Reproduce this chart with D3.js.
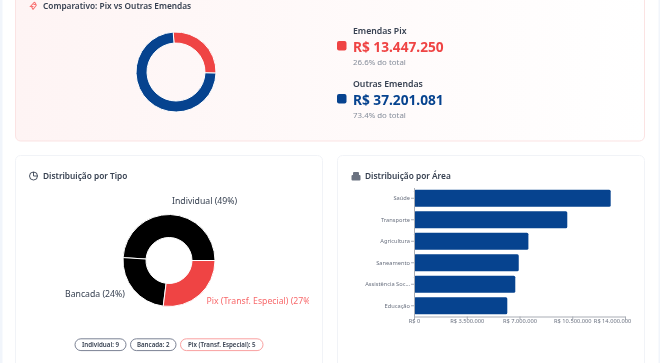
<!DOCTYPE html>
<html>
<head>
<meta charset="utf-8">
<script src="https://cdn.jsdelivr.net/npm/d3@7"></script>
<style>
  html, body { margin: 0; padding: 0; background: #fff; overflow: hidden; }
  svg { display: block; filter: blur(0.35px); }
  text { font-family: "Noto Sans", sans-serif; }
</style>
</head>
<body>
<div id="chart"></div>
<script>
// ----------------------- data ------------------------
const compareNames = ["Emendas Pix", "Outras Emendas"];
const compareValues = [13447250, 37201081];
const comparePct = ["26.6% do total", "73.4% do total"];

const typeNames = ["Individual", "Bancada", "Pix (Transf. Especial)"];
const typePct = [49, 24, 27];
const typeCounts = [9, 2, 5];

const areaNames = ["Saúde", "Transporte", "Agricultura", "Saneamento", "Assistência Soc...", "Educação"];
const areaValues = [13050000, 10170000, 7590000, 6950000, 6720000, 6190000];
const areaTicks = [0, 3500000, 7000000, 10500000, 14000000];

// ----------------------- constants ------------------------
const width = 660, height = 363;
const red = "#ef4444", blue = "#06438f", dark = "#374151", grey = "#6b7280";
const brl = v => "R$ " + d3.format(",")(v).replace(/,/g, ".");

const svg = d3.select("#chart").append("svg")
  .attr("width", width).attr("height", height);

const defs = svg.append("defs");
const grad = defs.append("linearGradient").attr("id", "pink");
grad.append("stop").attr("offset", "0%").attr("stop-color", "#fef4f4");
grad.append("stop").attr("offset", "100%").attr("stop-color", "#ffffff");
defs.append("clipPath").attr("id", "typeClip")
  .append("rect").attr("x", 15).attr("y", 155).attr("width", 294).attr("height", 208);

// side strips of the page
svg.append("rect").attr("width", 2.5).attr("height", height).attr("fill", "#f1f5fb");
svg.append("rect").attr("x", 658.5).attr("width", 1.5).attr("height", height).attr("fill", "#f1f5fb");

// ----------------------- cards ------------------------
svg.append("rect").attr("x", 15.5).attr("y", -30).attr("width", 629).attr("height", 171)
  .attr("rx", 5).attr("fill", "url(#pink)").attr("stroke", "#fbe3e3");
[[15.5, 307], [337.5, 307]].forEach(([x, w]) => {
  svg.append("rect").attr("x", x).attr("y", 155.5).attr("width", w).attr("height", 240)
    .attr("rx", 5).attr("fill", "#fff").attr("stroke", "#f1f3f7");
});

function title(x, y, t) {
  svg.append("text").attr("x", x).attr("y", y).attr("dy", "0.35em")
    .attr("font-size", 8.3).attr("font-weight", 600).attr("fill", dark).text(t);
}
title(43, 6, "Comparativo: Pix vs Outras Emendas");
title(43, 176.5, "Distribuição por Tipo");
title(365, 176.5, "Distribuição por Área");

// icons
svg.append("path").attr("d", "M34.5 2 L30.5 6.5 L33.5 6.5 M36.5 5 L33 9.5 M33.5 4.5 L36.5 4.5 M31.5 6.5 L33 9.5 M34.5 2 L36 4.5")
  .attr("fill", "none").attr("stroke", "#f87171").attr("stroke-width", 1.1);
const clock = svg.append("g").attr("fill", "none").attr("stroke", dark).attr("stroke-width", 0.9);
clock.append("circle").attr("cx", 33.5).attr("cy", 176).attr("r", 4);
clock.append("path").attr("d", "M33.5 172 V176 H37.5");
const bld = svg.append("g").attr("fill", "#6b7280");
bld.append("rect").attr("x", 351.5).attr("y", 175).attr("width", 9).attr("height", 5.5).attr("rx", 1);
bld.append("rect").attr("x", 353).attr("y", 172).attr("width", 6).attr("height", 3.5).attr("rx", 1);

// ----------------------- comparison donut ------------------------
const startA = -4 * Math.PI / 180;
const pieCompare = d3.pie().sort(null).startAngle(startA).endAngle(startA + 2 * Math.PI);
const arcCompare = d3.arc().innerRadius(29).outerRadius(40);
svg.append("g").attr("transform", "translate(176,72)")
  .selectAll("path").data(pieCompare(compareValues)).join("path")
  .attr("d", arcCompare)
  .attr("fill", (d, i) => [red, blue][i])
  .attr("stroke", "#fff").attr("stroke-width", 1);

// legend
const rowY = [31, 84];
compareNames.forEach((name, i) => {
  const g = svg.append("g").attr("transform", `translate(0,${rowY[i]})`);
  const c = [red, blue][i];
  g.append("rect").attr("x", 337).attr("y", 10).attr("width", 9.5).attr("height", 9.5)
    .attr("rx", 2).attr("fill", c);
  g.append("text").attr("x", 353).attr("dy", "0.35em")
    .attr("font-size", 8.7).attr("font-weight", 600).attr("fill", dark).text(name);
  g.append("text").attr("x", 353).attr("y", 16.5).attr("dy", "0.35em")
    .attr("font-size", 13.7).attr("font-weight", 700).attr("fill", c).text(brl(compareValues[i]));
  g.append("text").attr("x", 353).attr("y", 31).attr("dy", "0.35em")
    .attr("font-size", 7.9).attr("fill", "#858d9a").text(comparePct[i]);
});

// ----------------------- type donut ------------------------
const pieType = d3.pie().sort(null).startAngle(Math.PI / 2).endAngle(Math.PI / 2 - 2 * Math.PI);
const arcType = d3.arc().innerRadius(23).outerRadius(46);
const typeColors = ["#000000", "#000000", red];
svg.append("g").attr("transform", "translate(169,260.5)")
  .selectAll("path").data(pieType(typePct)).join("path")
  .attr("d", arcType)
  .attr("fill", (d, i) => typeColors[i])
  .attr("stroke", "#fff").attr("stroke-width", 1);

const typeLabels = svg.append("g").attr("clip-path", "url(#typeClip)");
const labelPos = [[172, 200.5], [65, 293.5], [206.5, 300.5]];
typeNames.forEach((name, i) => {
  typeLabels.append("text").attr("x", labelPos[i][0]).attr("y", labelPos[i][1]).attr("dy", "0.35em")
    .attr("font-size", 8.7)
    .attr("fill", i === 2 ? "#f8696b" : dark)
    .text(`${name} (${typePct[i]}%)`);
});

// chips
const chipX = [[75, 126], [130.5, 176], [180.5, 263]];
typeNames.forEach((name, i) => {
  const c = svg.append("g");
  const [x0, x1] = chipX[i];
  c.append("rect").attr("x", x0).attr("y", 338.8).attr("width", x1 - x0).attr("height", 11.8)
    .attr("rx", 5.9).attr("fill", "#fff")
    .attr("stroke", i === 2 ? "#f9a0a0" : "#7b8294").attr("stroke-width", 1);
  c.append("text").attr("x", (x0 + x1) / 2).attr("y", 344.9).attr("dy", "0.35em")
    .attr("text-anchor", "middle").attr("font-size", 6.2).attr("font-weight", 600).attr("fill", dark)
    .text(`${name}: ${typeCounts[i]}`);
});

// ----------------------- area bars ------------------------
const xScale = d3.scaleLinear().domain([0, 14000000]).range([414, 625]);
const yScale = d3.scaleBand().domain(areaNames).range([187.5, 316.5])
  .paddingInner(0.2).paddingOuter(0.1);

svg.append("g").selectAll("rect").data(areaNames).join("rect")
  .attr("x", xScale(0))
  .attr("y", d => yScale(d))
  .attr("width", (d, i) => xScale(areaValues[i]) - xScale(0))
  .attr("height", yScale.bandwidth())
  .attr("rx", 1.5)
  .attr("fill", blue);

const xAxis = svg.append("g").attr("transform", "translate(0,316.5)")
  .call(d3.axisBottom(xScale).tickValues(areaTicks).tickFormat(brl).tickSize(3).tickSizeOuter(3));
const yAxis = svg.append("g").attr("transform", "translate(414,0)")
  .call(d3.axisLeft(yScale).tickSize(3).tickSizeOuter(0).tickPadding(1));

[xAxis, yAxis].forEach(a => {
  a.selectAll("path, line").attr("stroke", "#a9adb5");
  a.selectAll("text").attr("font-size", 5.7).attr("font-family", '"Noto Sans", sans-serif').attr("fill", "#6b7280");
});
xAxis.selectAll("text").attr("y", 1).attr("dy", "0.9em");
// last tick label stays inside the plot, pulled back to end just past its tick
xAxis.selectAll(".tick:last-of-type text").attr("text-anchor", "end").attr("x", 5.7);
</script>
</body>
</html>
